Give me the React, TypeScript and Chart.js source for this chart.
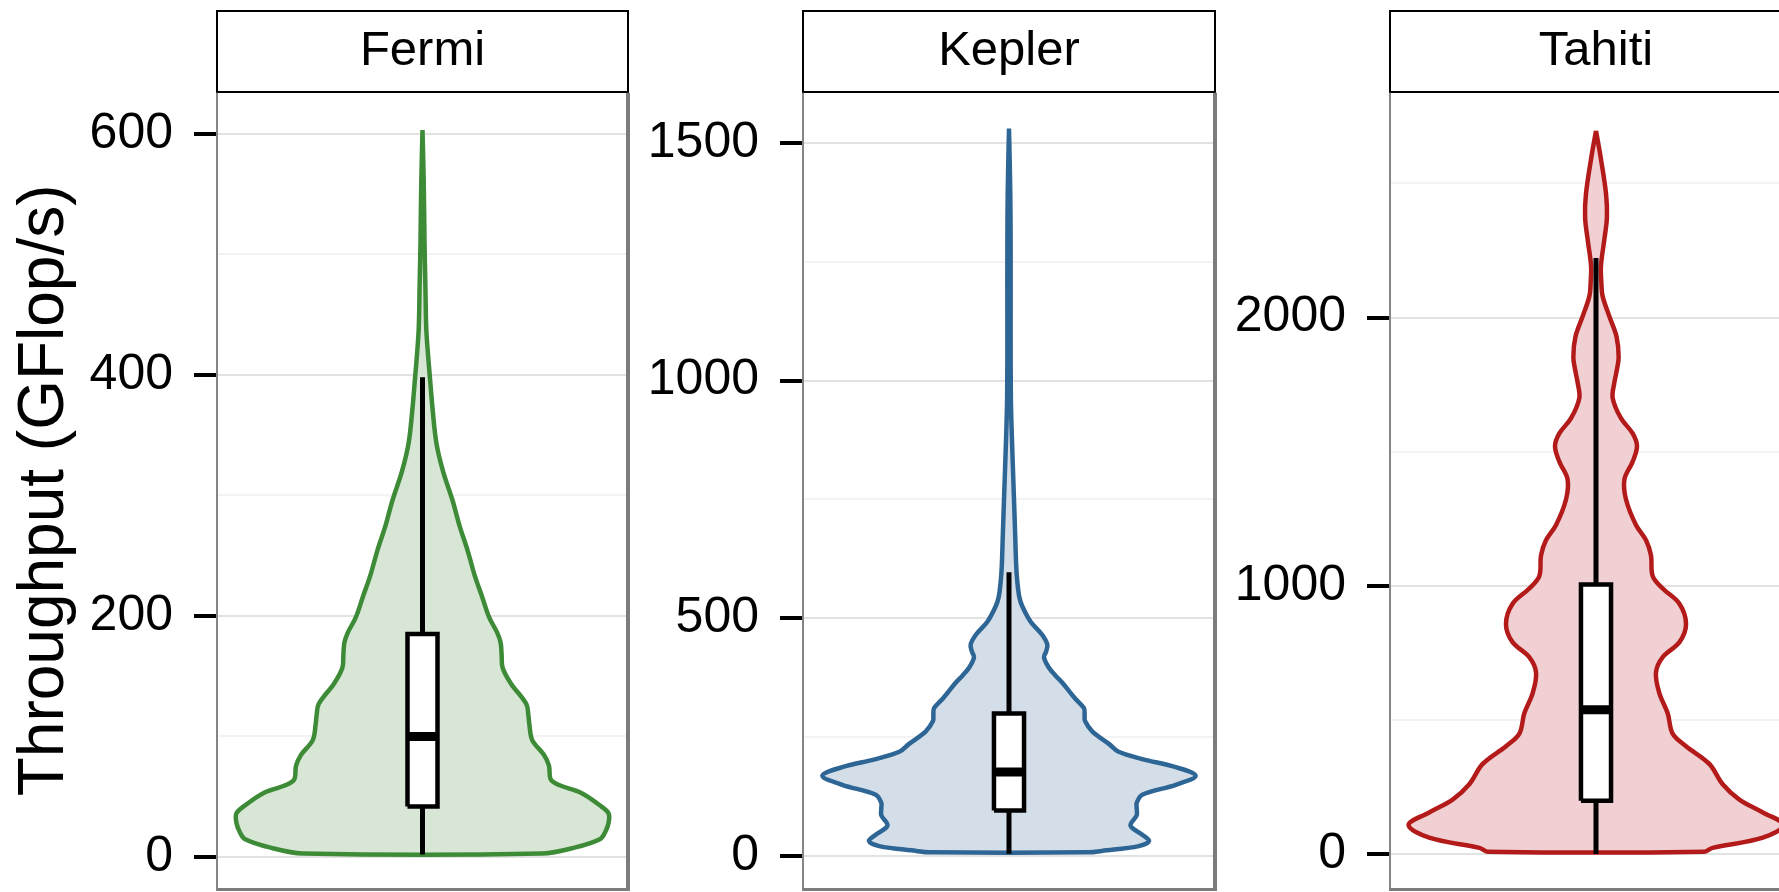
import React, { useEffect, useRef } from "react";
import { Chart, registerables } from "chart.js";

Chart.register(...registerables);

const FONT = '"Liberation Sans", Arial, Helvetica, sans-serif';

// ---------- data ----------
const panelNames = ["Fermi", "Kepler", "Tahiti"];
const yAxisTitle = "Throughput (GFlop/s)";

// violin outline: values (GFlop/s) from top to bottom, and relative half-widths
const fermiValues = [603, 560, 508, 474, 440, 423, 398, 370, 343, 320, 296, 275, 254, 233, 216, 199, 186, 178, 168, 157, 144, 127, 118, 110, 97, 85, 76, 63, 53, 42, 36, 28, 21, 15, 8, 3];
const fermiWidths = [0, 0.006, 0.01, 0.014, 0.018, 0.024, 0.036, 0.05, 0.068, 0.1, 0.146, 0.18, 0.22, 0.255, 0.29, 0.324, 0.364, 0.38, 0.385, 0.39, 0.43, 0.505, 0.515, 0.52, 0.534, 0.59, 0.615, 0.63, 0.775, 0.87, 0.906, 0.905, 0.89, 0.865, 0.744, 0.583];

const keplerValues = [1530, 1400, 1286, 1100, 964, 880, 804, 740, 675, 610, 579, 545, 525, 493, 466, 445, 430, 418, 396, 380, 364, 332, 311, 296, 284, 262, 236, 220, 204, 187, 169, 150, 129, 112, 100, 86, 64, 45, 32, 21, 11, 8];
const keplerWidths = [0, 0.006, 0.008, 0.008, 0.009, 0.014, 0.02, 0.025, 0.03, 0.035, 0.04, 0.05, 0.065, 0.105, 0.16, 0.186, 0.18, 0.17, 0.194, 0.225, 0.26, 0.32, 0.364, 0.367, 0.369, 0.405, 0.485, 0.53, 0.647, 0.81, 0.906, 0.81, 0.647, 0.62, 0.62, 0.62, 0.59, 0.647, 0.68, 0.63, 0.45, 0.39];

const tahitiValues = [2696, 2591, 2459, 2373, 2288, 2193, 2130, 2080, 2004, 1928, 1852, 1800, 1757, 1700, 1625, 1568, 1520, 1463, 1397, 1321, 1227, 1170, 1113, 1037, 990, 933, 857, 790, 734, 677, 601, 525, 449, 402, 336, 260, 203, 155, 108, 61, 23, 9];
const tahitiWidths = [0, 0.024, 0.049, 0.053, 0.04, 0.024, 0.026, 0.032, 0.065, 0.1, 0.11, 0.1, 0.089, 0.081, 0.121, 0.178, 0.199, 0.178, 0.138, 0.146, 0.194, 0.243, 0.267, 0.275, 0.324, 0.405, 0.437, 0.405, 0.324, 0.291, 0.307, 0.348, 0.372, 0.437, 0.55, 0.615, 0.696, 0.81, 0.91, 0.81, 0.566, 0.526];

// box plot: lower whisker, Q1, median, Q3, upper whisker
const fermiBox = [2, 42, 100, 185, 398];
const keplerBox = [5, 96, 177, 300, 597];
const tahitiBox = [0, 199, 538, 1005, 2222];

// y axis ranges
const fermiRange = [-25.7, 634];
const keplerRange = [-67, 1605];
const tahitiRange = [-126.6, 2838];

// labelled (major) ticks and unlabelled (minor) grid positions
const fermiTicks = [0, 200, 400, 600];
const fermiMinor = [100, 300, 500];
const keplerTicks = [0, 500, 1000, 1500];
const keplerMinor = [250, 750, 1250];
const tahitiTicks = [0, 1000, 2000];
const tahitiMinor = [500, 1500, 2500];

// ---------- styling ----------
const lineColors = ["#3d8b37", "#2d6595", "#b31b1b"];
const fillColors = ["#d8e6d6", "#d4dee8", "#f0d0d3"];

type Spec = {
  name: string;
  values: number[];
  widths: number[];
  box: number[];
  range: number[];
  ticks: number[];
  minor: number[];
  line: string;
  fill: string;
  left: number;
  width: number;
  axisWidth: number;
  padRight: number;
  showTitle: boolean;
};

const specs: Spec[] = [
  { name: panelNames[0], values: fermiValues, widths: fermiWidths, box: fermiBox, range: fermiRange, ticks: fermiTicks, minor: fermiMinor, line: lineColors[0], fill: fillColors[0], left: 0, width: 640, axisWidth: 217, padRight: 12, showTitle: true },
  { name: panelNames[1], values: keplerValues, widths: keplerWidths, box: keplerBox, range: keplerRange, ticks: keplerTicks, minor: keplerMinor, line: lineColors[1], fill: fillColors[1], left: 640, width: 590, axisWidth: 163, padRight: 15, showTitle: false },
  { name: panelNames[2], values: tahitiValues, widths: tahitiWidths, box: tahitiBox, range: tahitiRange, ticks: tahitiTicks, minor: tahitiMinor, line: lineColors[2], fill: fillColors[2], left: 1230, width: 590, axisWidth: 160, padRight: 18, showTitle: false },
];

const H = 892;
const BOX_HALF = 0.073;

const framePlugin = {
  id: "facetFrame",
  beforeDraw(chart: any) {
    const { ctx, chartArea: a } = chart;
    ctx.save();
    ctx.fillStyle = "#ffffff";
    ctx.fillRect(a.left, 11, a.right - a.left, 81);
    ctx.strokeStyle = "#000000";
    ctx.lineWidth = 2;
    ctx.strokeRect(a.left, 11, a.right - a.left, 81);
    ctx.restore();
  },
  afterDraw(chart: any) {
    const { ctx, chartArea: a } = chart;
    ctx.save();
    ctx.strokeStyle = "#858585";
    ctx.lineWidth = 2;
    ctx.beginPath();
    ctx.moveTo(a.left, a.top);
    ctx.lineTo(a.left, a.bottom + 3);
    ctx.stroke();
    ctx.lineWidth = 4;
    ctx.strokeStyle = "#7c7c7c";
    ctx.beginPath();
    ctx.moveTo(a.right, a.top);
    ctx.lineTo(a.right, a.bottom + 3);
    ctx.stroke();
    ctx.lineWidth = 3;
    ctx.beginPath();
    ctx.moveTo(a.left, a.bottom + 1.5);
    ctx.lineTo(a.right + 2, a.bottom + 1.5);
    ctx.stroke();
    ctx.restore();
  },
};

function buildConfig(s: Spec): any {
  const right = s.values.map((v, i) => ({ x: s.widths[i], y: v }));
  const left = right.slice(1).reverse().map((p) => ({ x: -p.x, y: p.y }));
  const violin = [...right, ...left, right[0]];
  const [lo, q1, med, q3, hi] = s.box;
  const boxPts = [
    { x: -BOX_HALF, y: q1 },
    { x: BOX_HALF, y: q1 },
    { x: BOX_HALF, y: q3 },
    { x: -BOX_HALF, y: q3 },
    { x: -BOX_HALF, y: q1 },
  ];
  const isMajor = (v: number) => s.ticks.some((t) => Math.abs(t - v) < 1e-6);
  const allTicks = [...s.ticks, ...s.minor].sort((a, b) => a - b);

  return {
    type: "scatter",
    data: {
      datasets: [
        {
          data: violin,
          showLine: true,
          borderColor: s.line,
          backgroundColor: s.fill,
          borderWidth: 4.5,
          borderJoinStyle: "round",
          tension: 0.35,
          fill: "shape",
          pointRadius: 0,
          order: 4,
        },
        {
          data: [{ x: 0, y: lo }, { x: 0, y: hi }],
          showLine: true,
          borderColor: "#000000",
          borderWidth: 5,
          borderCapStyle: "butt",
          pointRadius: 0,
          fill: false,
          order: 3,
        },
        {
          data: boxPts,
          showLine: true,
          borderColor: "#000000",
          backgroundColor: "#ffffff",
          borderWidth: 4.5,
          borderJoinStyle: "miter",
          fill: "shape",
          tension: 0,
          pointRadius: 0,
          order: 2,
        },
        {
          data: [{ x: -BOX_HALF, y: med }, { x: BOX_HALF, y: med }],
          showLine: true,
          borderColor: "#000000",
          borderWidth: 9,
          borderCapStyle: "butt",
          pointRadius: 0,
          fill: false,
          order: 1,
        },
      ],
    },
    options: {
      responsive: false,
      animation: false,
      devicePixelRatio: 1,
      layout: { padding: { left: 0, right: s.padRight, top: 0, bottom: 4 } },
      plugins: {
        legend: { display: false },
        tooltip: { enabled: false },
        title: {
          display: true,
          text: s.name,
          fullSize: false,
          color: "#000000",
          font: { family: FONT, size: 49, weight: "normal", lineHeight: 1.2 },
          padding: { top: 22, bottom: 12 },
        },
      },
      scales: {
        x: { type: "linear", min: -1, max: 1, display: false },
        y: {
          type: "linear",
          min: s.range[0],
          max: s.range[1],
          border: { display: false },
          afterBuildTicks: (sc: any) => {
            sc.ticks = allTicks.map((v) => ({ value: v }));
          },
          afterFit: (sc: any) => {
            sc.width = s.axisWidth;
            sc.paddingTop = 0;
            sc.paddingBottom = 0;
          },
          title: {
            display: s.showTitle,
            text: yAxisTitle,
            color: "#000000",
            font: { family: FONT, size: 64, weight: "normal", lineHeight: 1.2 },
            padding: { top: 7, bottom: 0 },
          },
          grid: {
            color: (c: any) => (c.tick && isMajor(c.tick.value) ? "#e2e2e2" : "#f3f3f3"),
            lineWidth: 2,
            tickLength: 23,
            tickWidth: 4,
            tickColor: (c: any) => (c.tick && isMajor(c.tick.value) ? "#000000" : "rgba(0,0,0,0)"),
          },
          ticks: {
            autoSkip: false,
            padding: 21,
            color: "#000000",
            font: { family: FONT, size: 50 },
            callback: (v: any) => (isMajor(Number(v)) ? String(v) : ""),
          },
        },
      },
    },
    plugins: [framePlugin],
  };
}

function Panel({ spec }: { spec: Spec }) {
  const ref = useRef<HTMLCanvasElement | null>(null);
  useEffect(() => {
    if (!ref.current) return;
    const chart = new Chart(ref.current, buildConfig(spec));
    return () => chart.destroy();
  }, [spec]);
  return (
    <canvas
      ref={ref}
      width={spec.width}
      height={H}
      style={{ position: "absolute", left: spec.left, top: 0, width: spec.width, height: H }}
    />
  );
}

export default function App() {
  return (
    <div
      style={{
        position: "fixed",
        left: 0,
        top: 0,
        width: 1779,
        height: H,
        overflow: "hidden",
        background: "#ffffff",
      }}
    >
      {specs.map((s) => (
        <Panel key={s.name} spec={s} />
      ))}
    </div>
  );
}
